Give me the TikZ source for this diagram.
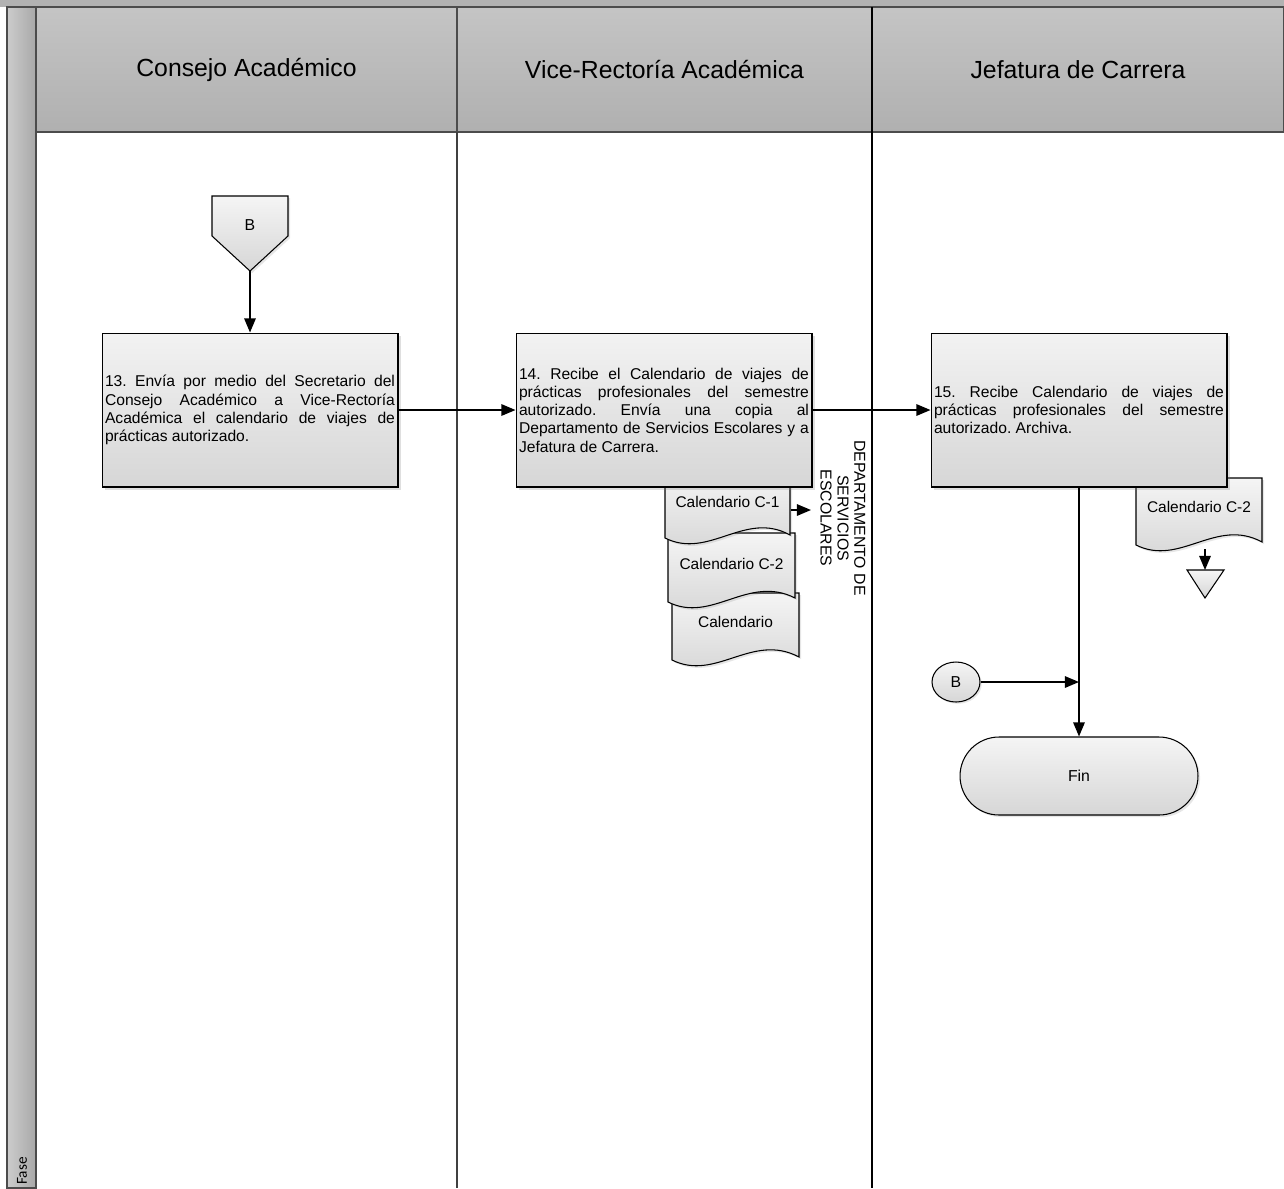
\documentclass[tikz,border=0pt]{standalone}
\usepackage{fontspec}
\setmainfont{Liberation Sans}
\newfontfamily\fasefont{Carlito}
\usepackage{tikz}
\usetikzlibrary{positioning,arrows.meta,calc,shapes.geometric,shadows}
\tikzset{
  lanehead/.style ={draw=black!70, rectangle, top color=black!23, bottom color=black!31, minimum height=2.5cm, font=\fontsize{14.1}{17}\selectfont},
  stepbox/.style  ={draw, rectangle, top color=black!5, bottom color=black!16, minimum width=5.92cm, minimum height=3.08cm, text width=5.8cm, inner xsep=0.06cm, align=justify, font=\fontsize{8.9}{10.4}\selectfont\frenchspacing, drop shadow={shadow xshift=1.5pt, shadow yshift=-1.5pt, opacity=0.25}},
  doctxt/.style   ={inner sep=0pt, font=\fontsize{8.8}{10}\selectfont},
  docshp/.style   ={draw, top color=black!4, bottom color=black!17, drop shadow={shadow xshift=1.2pt, shadow yshift=-1.2pt, opacity=0.2}},
  conn/.style     ={draw, ellipse, top color=black!4, bottom color=black!16, minimum width=0.96cm, minimum height=0.8cm, inner sep=0pt, font=\fontsize{9}{10}\selectfont, drop shadow={shadow xshift=1pt, shadow yshift=-1pt, opacity=0.2}},
  term/.style     ={draw, rectangle, rounded corners=0.78cm, top color=black!4, bottom color=black!16, minimum width=4.76cm, minimum height=1.56cm, font=\fontsize{9}{10}\selectfont, drop shadow={shadow xshift=1.2pt, shadow yshift=-1.2pt, opacity=0.2}},
  dept/.style     ={align=center, inner sep=1pt, font=\fontsize{9}{9.6}\selectfont},
  arr/.style      ={-{Triangle[length=8pt,width=6.5pt]}, line width=0.9pt},
}

\begin{document}
\begin{tikzpicture}[x=0.02cm, y=-0.02cm, line width=0.6pt]
  \useasboundingbox (0,0) rectangle (1284,1188);
  % frame, phase column and lane headers
  \fill[black!30] (0,0) rectangle (1284,7);
  \shade[left color=black!20, right color=black!34, draw=black!70] (7,7) rectangle (36,1188);
  \node[rotate=90, inner sep=0pt, font=\fasefont\fontsize{8.7}{10}\selectfont] (fase) at (22,1171) {Fase};
  \node[lanehead, minimum width=8.42cm] (h1) at (246.5,69.5) {Consejo Académico};
  \node[lanehead, minimum width=8.30cm] (h2) at (664.5,69.5) {Vice-Rectoría Académica};
  \node[lanehead, minimum width=8.24cm] (h3) at (1078,69.5) {Jefatura de Carrera};
  \draw[black!75] (457,132) -- (457,1188);
  \draw[black, line width=1pt] (872,7) -- (872,1188);

  % lane 1
  \shade[draw, top color=black!4, bottom color=black!16, drop shadow={shadow xshift=1.2pt, shadow yshift=-1.2pt, opacity=0.2}]
    (212,196) -- (288,196) -- (288,236) -- (250,271) -- (212,236) -- cycle;
  \node[font=\fontsize{9}{10}\selectfont] (boff) at (250,225) {B};
  \coordinate (btip) at (250,271);
  \node[stepbox] (s13) at (250,410) {13. Envía por medio del Secretario del\linebreak Consejo Académico a Vice-Rectoría\linebreak Académica el calendario de viajes de\linebreak prácticas autorizado.};

  % lane 2: copies behind step 14
  \shade[docshp] (672,593) -- (672,660) .. controls (716,682) and (752,632) .. (799,657) -- (799,593) -- cycle;
  \shade[docshp] (668,533) -- (668,602) .. controls (712,624) and (748,574) .. (795,598) -- (795,533) -- cycle;
  \shade[docshp] (665,470) -- (665,538) .. controls (709,560) and (745,510) .. (790,535) -- (790,470) -- cycle;
  \node[doctxt] (c3) at (735.5,622) {Calendario};
  \node[doctxt] (c2) at (731.5,564) {Calendario C-2};
  \node[doctxt, minimum width=2.5cm] (c1) at (727.5,502) {Calendario C-1};
  \node[stepbox] (s14) at (664,410) {14. Recibe el Calendario de viajes de\linebreak prácticas profesionales del semestre\linebreak autorizado. Envía una copia al\linebreak Departamento de Servicios Escolares y a\linebreak Jefatura de Carrera.};
  \node[dept, rotate=-90] (dpt) at (843,518) {DEPARTAMENTO DE\\SERVICIOS\\ESCOLARES};
  \coordinate (dptin) at (811,510);

  % lane 3
  \shade[docshp] (1136,478) -- (1136,545) .. controls (1180,567) and (1216,517) .. (1262,542) -- (1262,478) -- cycle;
  \node[doctxt] (c4) at (1199,507) {Calendario C-2};
  \coordinate (c4w) at (1205,549);
  \shade[draw, top color=black!4, bottom color=black!16] (1187,570) -- (1224,570) -- (1205,598) -- cycle;
  \coordinate (arch) at (1205,570);
  \node[stepbox] (s15) at (1079,410) {15. Recibe Calendario de viajes de\linebreak prácticas profesionales del semestre\linebreak autorizado. Archiva.};
  \node[conn] (bon) at (956,682) {B};
  \coordinate (join) at (1079,682);
  \node[term] (fin) at (1079,776) {Fin};

  % connectors
  \draw[arr] (btip) -- (s13);
  \draw[arr] (s13) -- (s14);
  \draw[arr] (s14) -- (s15);
  \draw[arr] (c1.east |- dptin) -- (dptin);
  \draw[arr] (c4w) -- (arch);
  \draw[arr] (s15) -- (fin);
  \draw[arr] (bon) -- (join);
\end{tikzpicture}
\end{document}
